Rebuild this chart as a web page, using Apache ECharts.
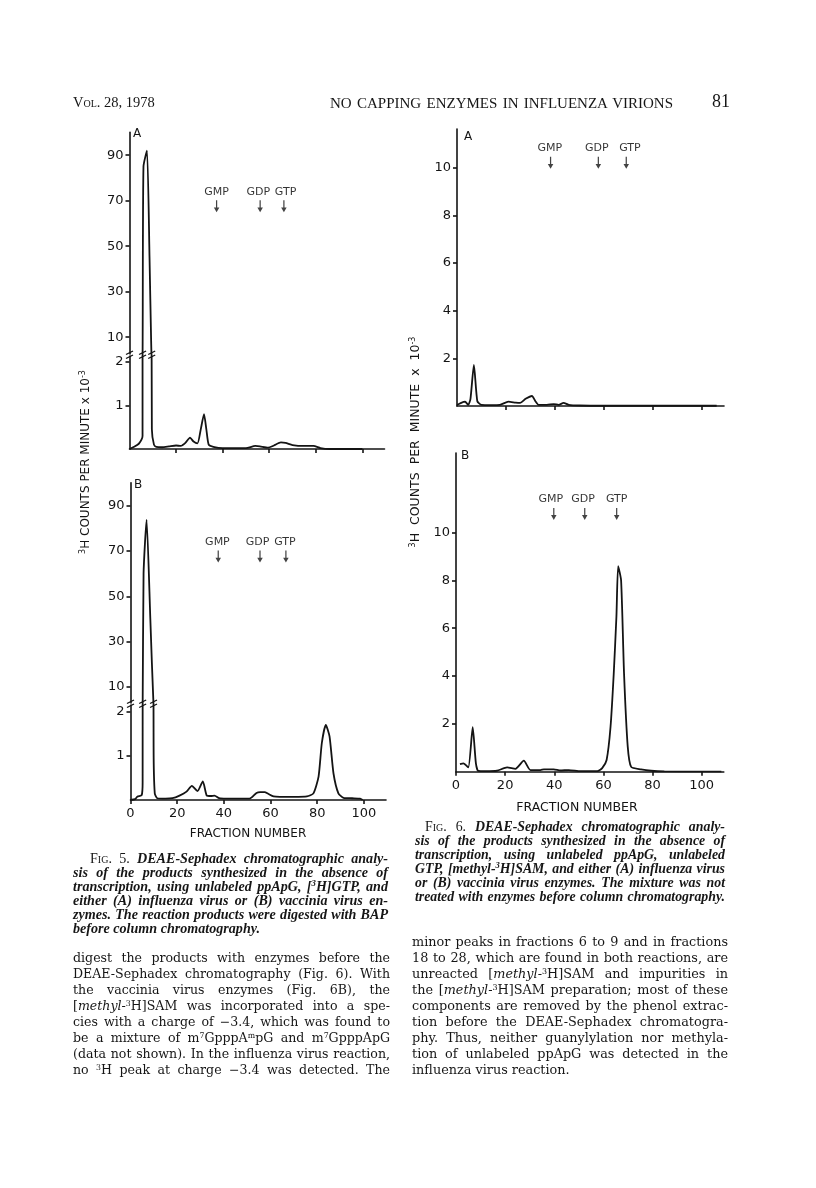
<!DOCTYPE html>
<html><head><meta charset="utf-8">
<script src="https://cdn.jsdelivr.net/npm/echarts@6/dist/echarts.min.js"></script>
<style>
html,body{margin:0;padding:0;background:#fff;}
#page{position:relative;width:816px;height:1188px;overflow:hidden;background:#fff;}
#chart{position:absolute;left:0;top:0;width:816px;height:1188px;}
.ln{position:absolute;white-space:nowrap;text-align:justify;text-align-last:justify;color:#161616;font-family:"DejaVu Serif",serif;}
.ln.last{text-align-last:left;}
.cap{font-style:italic;font-family:"Liberation Serif","Times New Roman",serif;font-weight:bold;}
.sc{font-variant:small-caps;font-style:normal;font-weight:normal;}
.rm{font-style:normal;font-weight:normal;}
sup{font-size:62%;line-height:0;vertical-align:0.55em;}
.hd{position:absolute;white-space:nowrap;color:#161616;font-family:"Liberation Serif","Times New Roman",serif;}
.probe{position:absolute;visibility:hidden;white-space:nowrap;left:0;top:0;}
</style></head>
<body><div id="page"><div id="chart"></div></div>
<script>
// ---------------- DATA ----------------
// Fig. 5A: influenza virus, [3H]GTP  (fraction, cpm x 10^-3)
const fig5A = [[0,0],[2,0.05],[4,0.12],[5.2,0.22],[5.6,0.3],[6.0,85],[7.5,92],[8.6,45],[9.3,8],[9.6,0.45],[10.5,0.1],[11.5,0.05],
  [14,0.04],[17,0.06],[20,0.08],[22,0.07],[24,0.14],[26,0.26],[27.5,0.17],[29.2,0.13],[30.6,0.45],[32,0.8],[33,0.45],[34,0.1],
  [36,0.05],[40,0.02],[45,0.02],[50,0.02],[54,0.07],[56,0.06],[59.5,0.03],[62,0.08],[65,0.15],[67,0.14],[70,0.09],[75,0.07],
  [79,0.07],[82,0.02],[86,0],[100,0]];
// Fig. 5B: vaccinia virus, [3H]GTP
const fig5B = [[0,0],[2,0.02],[3,0.08],[4.8,0.11],[5.2,0.4],[5.6,60],[6.9,83.7],[8.5,40],[9.9,1.2],[10.4,0.15],[11.5,0.04],
  [15,0.03],[18,0.04],[21,0.1],[24,0.19],[26.3,0.32],[28.7,0.2],[31,0.42],[32.7,0.1],[34.5,0.09],[36,0.1],[38,0.04],[41,0.03],
  [45,0.03],[51,0.03],[54,0.16],[55.6,0.18],[57.5,0.18],[59,0.14],[61.3,0.08],[64,0.07],[70,0.07],[75.6,0.08],[78.4,0.15],
  [80.6,0.53],[82,1.29],[83.7,1.7],[85.3,1.44],[87,0.6],[89.1,0.15],[91.3,0.05],[95,0.04],[98.4,0.03],[99.5,0]];
// Fig. 6A: influenza virus, [methyl-3H]SAM
const fig6A = [[0,0.04],[1.5,0.12],[3.3,0.18],[4.6,0.05],[5.5,0.3],[6.9,1.72],[8.3,0.2],[10,0.05],[14,0.04],[17.5,0.05],
  [21,0.18],[24,0.14],[25.8,0.13],[28,0.3],[30.6,0.42],[32,0.2],[33.3,0.05],[36.7,0.05],[39.5,0.08],[41.5,0.05],[43.5,0.13],
  [45.6,0.05],[50,0.02],[60,0.01],[80,0.01],[100,0.01],[106,0.01]];
// Fig. 6B: vaccinia virus, [methyl-3H]SAM
const fig6B = [[1.6,0.32],[3,0.35],[5,0.18],[6.8,1.86],[8.1,0.35],[9.1,0.03],[12,0.02],[16.7,0.04],[20.8,0.18],[24.2,0.12],
  [27.6,0.46],[30.3,0.07],[34.4,0.07],[35.8,0.1],[39.8,0.1],[42.5,0.05],[45.9,0.07],[50.7,0.02],[57.5,0.02],[59.5,0.15],
  [61.3,0.49],[62.9,1.88],[64.2,4.1],[65.3,6.5],[66.0,8.6],[67.2,8.0],[68.4,4.1],[69.9,1.05],[71.3,0.2],[75.3,0.1],[79.4,0.04],
  [84.8,0.01],[100,0],[108,0]];
// marker (arrow) positions: fraction numbers of GMP, GDP, GTP
const markerNames = ['GMP','GDP','GTP'];
const fig5AMarkX = [37.4, 56.1, 66.3];
const fig5BMarkX = [37.6, 55.5, 66.6];
const fig6AMarkX = [38.2, 57.7, 69.1];
const fig6BMarkX = [39.8, 52.4, 65.4];
const fig5MarkY = 67.5, fig6AMarkY = 10.2, fig6BMarkY = 10.78;
// tick values
const xTicks = [20,40,60,80,100];
const xLabels = [0,20,40,60,80,100];
const fig5LowTicks = [1,2];
const fig5HighTicks = [10,30,50,70,90];
const fig6Ticks = [2,4,6,8,10];

// ---------------- CHART ----------------
const INK = '#141414';
const SANS = '"DejaVu Sans", sans-serif';
const grids = [
  {left:129.5, top:356,   width:255,   height:93},     // 5A lower
  {left:129.5, top:132.4, width:255,   height:221.6},  // 5A upper
  {left:130.5, top:705,   width:255.5, height:95},     // 5B lower
  {left:130.5, top:482.8, width:255.5, height:220.2},  // 5B upper
  {left:457,   top:129,   width:267,   height:277},    // 6A
  {left:456,   top:453,   width:267.8, height:318.7}   // 6B
];
// horizontal nudges of the marker labels relative to their arrows (px)
const labelShift5A = [0,-1.8,1.7], labelShift5B = [-0.8,-2.5,-1], labelShift6A = [-0.7,-1.6,3.7], labelShift6B = [-3,-1.7,0];
const lineS = {color:INK, width:1.6};
function xAx(g, max, show, labels){
  return {type:'value', gridIndex:g, min:0, max:max, show:show,
    axisLine:{show:true, onZero:false, lineStyle:lineS},
    axisTick:{show:true, inside:false, length:4, lineStyle:lineS, customValues: labels ? xLabels : xTicks},
    axisLabel:{show:!!labels, customValues:xLabels, margin:7, fontSize:13, fontFamily:SANS, color:INK},
    splitLine:{show:false}};
}
function yAx(g, min, max, ticks){
  return {type:'value', gridIndex:g, min:min, max:max,
    axisLine:{show:true, onZero:false, lineStyle:lineS},
    axisTick:{show:true, inside:false, length:4, lineStyle:lineS, customValues:ticks},
    axisLabel:{show:true, customValues:ticks, margin:6, fontSize:13, fontFamily:SANS, color:INK},
    splitLine:{show:false}};
}
function curve(idx, data){
  return {type:'line', xAxisIndex:idx, yAxisIndex:idx, data:data, showSymbol:false, smooth:0.2, clip:true,
    lineStyle:{color:INK, width:1.8}, silent:true, z:3};
}
const ARROW = 'path://M4,0 L6,0 L6,10 L9.5,10 L5,17 L0.5,10 L4,10 Z';
function marks(idx, xs, y, shifts){
  return {type:'scatter', xAxisIndex:idx, yAxisIndex:idx, symbol:ARROW, symbolSize:[5.5,12], silent:true,
    itemStyle:{color:INK},
    data: xs.map((x,i)=>({name:markerNames[i], value:[x,y], label:{offset:[shifts[i],0]}})),
    label:{show:true, position:'top', distance:3, formatter:'{b}', fontSize:11, fontFamily:SANS, color:'#000'}};
}
const chart = echarts.init(document.getElementById('chart'), null, {renderer:'canvas'});
const texts = [];
function txt(id, x, y, text, size, extra){
  texts.push(Object.assign({type:'text', id:id, x:x, y:y, silent:true,
    style:{text:text, font:size+'px '+SANS, fill:INK, align:'center', verticalAlign:'middle'}}, extra||{}));
}
txt('la', 137, 134, 'A', 12);
txt('lb', 138, 485, 'B', 12);
txt('l6a', 468, 137, 'A', 12);
txt('l6b', 465, 456, 'B', 12);
txt('fx5', 248, 834, 'FRACTION NUMBER', 12);
txt('fx6', 577, 808, 'FRACTION NUMBER', 12.5);
const rich = {sup:{fontSize:8, fontFamily:SANS, fill:INK, verticalAlign:'top', padding:[0,0,6,0]}};
texts.push({type:'text', id:'yt5', x:86, y:462, rotation:Math.PI/2, silent:true,
  style:{text:'{sup|3}H COUNTS PER MINUTE x 10{sup|-3}', font:'12px '+SANS, fill:INK, align:'center', verticalAlign:'middle', rich:rich}});
texts.push({type:'text', id:'yt6', x:416, y:442, rotation:Math.PI/2, silent:true,
  style:{text:'{sup|3}H  COUNTS  PER  MINUTE  x  10{sup|-3}', font:'12.5px '+SANS, fill:INK, align:'center', verticalAlign:'middle', rich:rich}});

const option = {
  animation:false,
  backgroundColor:'transparent',
  grid: grids.map(g=>Object.assign({containLabel:false}, g)),
  xAxis:[xAx(0,109.5,true,false), xAx(1,109.5,false,false), xAx(2,109.5,true,true), xAx(3,109.5,false,false),
         xAx(4,109,true,false), xAx(5,109,true,true)],
  yAxis:[yAx(0,0,2.13,fig5LowTicks), yAx(1,2.6,100,fig5HighTicks), yAx(2,0,2.15,fig5LowTicks), yAx(3,3,100,fig5HighTicks),
         yAx(4,0,11.62,fig6Ticks), yAx(5,0,13.33,fig6Ticks)],
  series:[curve(0,fig5A), curve(1,fig5A), curve(2,fig5B), curve(3,fig5B), curve(4,fig6A), curve(5,fig6B),
          marks(1,fig5AMarkX,fig5MarkY,labelShift5A), marks(3,fig5BMarkX,fig5MarkY,labelShift5B),
          marks(4,fig6AMarkX,fig6AMarkY,labelShift6A), marks(5,fig6BMarkX,fig6BMarkY,labelShift6B)],
  graphic: texts
};
chart.setOption(option);

// axis-break marks (decoration) placed from the data via the library's scales
function crossings(data, v){
  const out=[];
  for(let i=1;i<data.length;i++){
    const [x1,y1]=data[i-1],[x2,y2]=data[i];
    if((y1-v)*(y2-v)<0){ out.push(x1+(v-y1)/(y2-y1)*(x2-x1)); }
  }
  return out;
}
function breakMark(id, cx, cy){
  return {type:'group', id:id, x:cx, y:cy, silent:true, z:100, children:[
    {type:'rect', shape:{x:-3, y:-2.5, width:6, height:5}, style:{fill:'#fff'}},
    {type:'line', shape:{x1:-3.5, y1:-0.5, x2:3.5, y2:-4}, style:{stroke:INK, lineWidth:1.3}},
    {type:'line', shape:{x1:-3.5, y1:3.5, x2:3.5, y2:0}, style:{stroke:INK, lineWidth:1.3}}
  ]};
}
const brk=[];
[[0,1,fig5A,2.13],[2,3,fig5B,2.15]].forEach(([lo,hi,data,vmax],k)=>{
  const top = grids[lo].top, bot = grids[hi].top+grids[hi].height;
  const cy = (top+bot)/2;
  const ax = chart.convertToPixel({gridIndex:lo},[0,0])[0];
  brk.push(breakMark('bax'+k, ax, cy));
  crossings(data, vmax).forEach((x,j)=>{
    const px = chart.convertToPixel({gridIndex:lo},[x,vmax])[0];
    brk.push(breakMark('bpk'+k+'_'+j, px, cy));
  });
});
chart.setOption({graphic: texts.concat(brk)});

// ---------------- TEXT ----------------
const page = document.getElementById('page');
function hd(html, left, cy, size, extra){
  const d=document.createElement('div'); d.className='hd'; d.innerHTML=html;
  d.style.left=left+'px'; d.style.top=(cy-size*0.6)+'px'; d.style.fontSize=size+'px'; d.style.lineHeight=(size*1.2)+'px';
  if(extra) Object.assign(d.style, extra);
  page.appendChild(d); return d;
}
hd('<span class="sc">Vol.</span> 28, 1978', 73, 103, 14.5);
hd('NO CAPPING ENZYMES IN INFLUENZA VIRIONS', 330, 103, 15, {width:'343px', textAlign:'justify', textAlignLast:'justify'});
hd('81', 712, 102, 18);

const cap5 = [
 '<span class="sc">Fig.</span> <span class="rm">5.</span> DEAE-Sephadex chromatographic analy-',
 'sis of the products synthesized in the absence of',
 'transcription, using unlabeled ppApG, [<sup>3</sup>H]GTP, and',
 'either (A) influenza virus or (B) vaccinia virus en-',
 'zymes. The reaction products were digested with BAP',
 'before column chromatography.'
];
const cap6 = [
 '<span class="sc">Fig.</span> <span class="rm">6.</span> DEAE-Sephadex chromatographic analy-',
 'sis of the products synthesized in the absence of',
 'transcription, using unlabeled ppApG, unlabeled',
 'GTP, [methyl-<sup>3</sup>H]SAM, and either (A) influenza virus',
 'or (B) vaccinia virus enzymes. The mixture was not',
 'treated with enzymes before column chromatography.'
];
const bodyL = [
 'digest the products with enzymes before the',
 'DEAE-Sephadex chromatography (Fig. 6). With',
 'the vaccinia virus enzymes (Fig. 6B), the',
 '[<i>methyl</i>-<sup>3</sup>H]SAM was incorporated into a spe-',
 'cies with a charge of \u22123.4, which was found to',
 'be a mixture of m<sup>7</sup>GpppA<sup>m</sup>pG and m<sup>7</sup>GpppApG',
 '(data not shown). In the influenza virus reaction,',
 'no <sup>3</sup>H peak at charge \u22123.4 was detected. The'
];
const bodyR = [
 'minor peaks in fractions 6 to 9 and in fractions',
 '18 to 28, which are found in both reactions, are',
 'unreacted [<i>methyl</i>-<sup>3</sup>H]SAM and impurities in',
 'the [<i>methyl</i>-<sup>3</sup>H]SAM preparation; most of these',
 'components are removed by the phenol extrac-',
 'tion before the DEAE-Sephadex chromatogra-',
 'phy. Thus, neither guanylylation nor methyla-',
 'tion of unlabeled ppApG was detected in the',
 'influenza virus reaction.'
];
// font size that lets the tightest justified line fit its measure
function fitSize(lines, o, base){
  const probe=document.createElement('span'); probe.className='probe ln '+o.cls; probe.style.position='absolute';
  probe.style.fontSize=base+'px'; page.appendChild(probe);
  let r=10;
  lines.forEach((h,i)=>{
    if(o.lastLeft && i===lines.length-1) return;
    probe.innerHTML=h;
    const avail = o.right - (o.left + (i===0 && o.indent ? o.indent : 0));
    r=Math.min(r, avail/probe.getBoundingClientRect().width);
  });
  page.removeChild(probe);
  return Math.min(base*r*0.985, o.max);
}
function block(lines, o){
  const fs = fitSize(lines, o, 12);
  lines.forEach((h,i)=>{
    const d=document.createElement('div');
    d.className='ln '+o.cls+((o.lastLeft && i===lines.length-1)?' last':'');
    const l = o.left + (i===0 && o.indent ? o.indent : 0);
    d.style.left=l+'px'; d.style.width=(o.right-l)+'px'; d.style.fontSize=fs+'px';
    d.style.top=(o.c0+i*o.step-o.step/2)+'px'; d.style.height=o.step+'px'; d.style.lineHeight=o.step+'px';
    d.innerHTML=h; page.appendChild(d);
  });
}
block(cap5, {cls:'cap', left:73, right:388, indent:17, c0:858, step:14, lastLeft:true, max:15});
block(cap6, {cls:'cap', left:415, right:725, indent:10, c0:827, step:14, lastLeft:false, max:15});
block(bodyL, {cls:'body', left:73, right:390, c0:958, step:16, lastLeft:false, max:15});
block(bodyR, {cls:'body', left:412, right:728, c0:942, step:16, lastLeft:true, max:15});
</script></body></html>
